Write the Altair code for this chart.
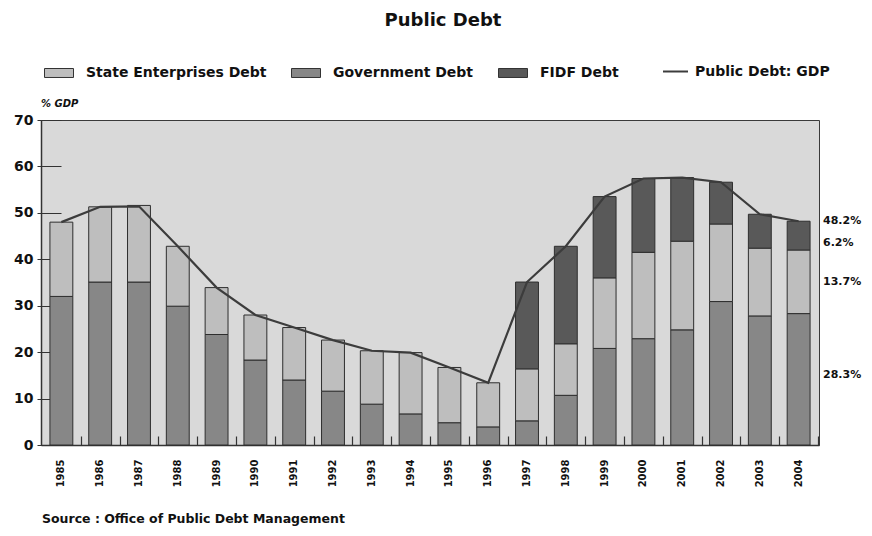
import altair as alt
import pandas as pd

# ---------------- data ----------------
years = [str(y) for y in range(1985, 2005)]
government_debt = [32.0, 35.1, 35.1, 29.9, 23.8, 18.3, 14.0, 11.6, 8.8, 6.7,
                   4.8, 3.9, 5.2, 10.7, 20.8, 22.9, 24.8, 30.9, 27.8, 28.3]
state_enterprises_debt = [16.0, 16.2, 16.5, 12.9, 10.1, 9.7, 11.3, 11.0, 11.5, 13.2,
                          11.9, 9.5, 11.2, 11.1, 15.2, 18.6, 19.1, 16.7, 14.6, 13.7]
fidf_debt = [0, 0, 0, 0, 0, 0, 0, 0, 0, 0,
             0, 0, 18.7, 21.0, 17.5, 15.9, 13.7, 9.0, 7.3, 6.2]
public_debt_gdp = [48.0, 51.3, 51.4, 42.8, 33.9, 28.0, 25.3, 22.6, 20.3, 19.9,
                   16.7, 13.4, 35.1, 42.8, 53.5, 57.4, 57.6, 56.6, 49.7, 48.2]

series_names = ["State Enterprises Debt", "Government Debt", "FIDF Debt"]
series_colors = ["#bebebe", "#878787", "#595959"]
line_name = "Public Debt: GDP"
y_ticks = [0, 10, 20, 30, 40, 50, 60, 70]
end_labels = ["48.2%", "6.2%", "13.7%", "28.3%"]

title_text = "Public Debt"
unit_text = "% GDP"
source_text = "Source : Office of Public Debt Management"

FONT = "DejaVu Sans"
W, H = 778, 325
PAD_IN, PAD_OUT = 0.41, 0.23
STEP = W / (len(years) - PAD_IN + 2 * PAD_OUT)

# ---------------- tables ----------------
rows = []
for i, yr in enumerate(years):
    for name, vals, rank in (("Government Debt", government_debt, 0),
                             ("State Enterprises Debt", state_enterprises_debt, 1),
                             ("FIDF Debt", fidf_debt, 2)):
        if vals[i] > 0:
            rows.append({"year": yr, "series": name, "value": vals[i], "rank": rank})
bar_df = pd.DataFrame(rows)
line_df = pd.DataFrame({"year": years, "gdp": public_debt_gdp, "name": line_name})

g, s, f = government_debt[-1], state_enterprises_debt[-1], fidf_debt[-1]
end_pos = [public_debt_gdp[-1], g + s + f / 2 - 1.6, g + s / 2, g / 2 + 1.0]
end_df = pd.DataFrame({"label": end_labels, "pos": end_pos})

x_scale = alt.Scale(domain=years, paddingInner=PAD_IN, paddingOuter=PAD_OUT)
y_scale = alt.Scale(domain=[0, 70], nice=False)

bars = alt.Chart(bar_df).mark_bar(stroke="#2e2e2e", strokeWidth=1).encode(
    x=alt.X("year:O", scale=x_scale,
            axis=alt.Axis(title=None, orient="bottom", labelAngle=-90, labelFontSize=10,
                          labelFontWeight="bold", labelPadding=14, ticks=False,
                          domainColor="#333333", domainWidth=1.5, labelColor="#111111",
                          labelBaseline="middle", labelAlign="right")),
    y=alt.Y("value:Q", stack="zero", scale=y_scale,
            axis=alt.Axis(values=y_ticks, title=None, orient="left", tickSize=4,
                          tickColor="#333333", labelFontSize=14, labelFontWeight="bold",
                          labelPadding=4, labelColor="#111111", domainColor="#333333",
                          domainWidth=1.5, grid=False)),
    fill=alt.Fill("series:N", scale=alt.Scale(domain=series_names, range=series_colors),
                  legend=alt.Legend(title=None, orient="none", legendX=3, legendY=-62,
                                    direction="horizontal",
                                    symbolType="M-1,-0.31H1V0.31H-1Z", symbolSize=841,
                                    symbolStrokeColor="#333333", symbolStrokeWidth=1,
                                    symbolOpacity=1, labelOffset=12, columnPadding=22,
                                    labelFontSize=14, labelFontWeight="bold",
                                    labelLimit=400, labelColor="#111111", padding=0)),
    order=alt.Order("rank:Q", sort="ascending"),
)

line = alt.Chart(line_df).mark_line(interpolate="linear", strokeWidth=2.2).encode(
    x=alt.X("year:O", scale=x_scale,
            axis=alt.Axis(title=None, orient="bottom", labels=False, domain=False,
                          tickSize=9, offset=-9, tickOffset=STEP / 2,
                          tickColor="#333333", tickWidth=1.2, zindex=0)),
    y=alt.Y("gdp:Q", scale=y_scale,
            axis=alt.Axis(title=None, orient="left", labels=False, domain=False,
                          values=y_ticks, tickSize=20, offset=-20,
                          tickColor="#333333", grid=False, zindex=0)),
    stroke=alt.Stroke("name:N", scale=alt.Scale(domain=[line_name], range=["#3c3c3c"]),
                      legend=alt.Legend(title=None, orient="none", legendX=621, legendY=-62,
                                        symbolType="stroke", symbolSize=625,
                                        symbolStrokeWidth=2, labelOffset=6,
                                        labelFontSize=14, labelFontWeight="bold",
                                        labelLimit=400, labelColor="#111111", padding=0)),
)

end_text = alt.Chart(end_df).mark_text(
    align="left", baseline="middle", font=FONT, fontSize=11, fontWeight="bold",
    color="#111111"
).encode(
    text="label:N",
    y=alt.Y("pos:Q", scale=y_scale, axis=None),
    x=alt.value(W + 4),
)

def note(txt, x, y, **kw):
    return alt.Chart(pd.DataFrame({"t": [txt]})).mark_text(
        font=FONT, fontWeight="bold", color="#111111", baseline="middle", **kw
    ).encode(text="t:N", x=alt.value(x), y=alt.value(y))

title = note(title_text, 402, -99, fontSize=18, align="center")
unit = note(unit_text, 0, -16, fontSize=10, fontStyle="italic", align="left")
source = note(source_text, 1, 399, fontSize=12.5, align="left")

chart = alt.layer(bars, line, end_text, title, unit, source).resolve_axis(
    x="independent", y="independent"
).properties(
    width=W, height=H,
    autosize=alt.AutoSizeParams(type="none"),
    padding={"left": 33, "top": 112, "right": 45, "bottom": 83},
    background="white",
).configure_view(
    fill="#d9d9d9", stroke="#3a3a3a", strokeWidth=1
).configure_axis(
    labelFont=FONT
).configure_legend(
    labelFont=FONT
)

chart.save("out.html", embed_options={"renderer": "svg", "actions": False})
